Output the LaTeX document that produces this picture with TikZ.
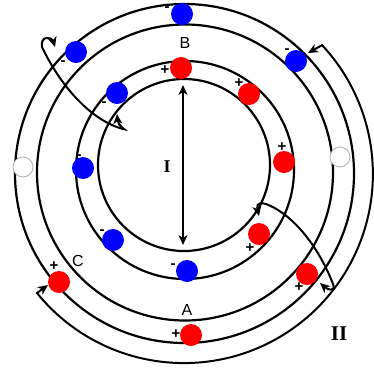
\documentclass[tikz,border=0pt]{standalone}
\usepackage{fontspec}
\setmainfont{Liberation Serif}
\setsansfont{Liberation Sans}
\usepackage{tikz}
\usetikzlibrary{arrows.meta}
\definecolor{elecblue}{RGB}{0, 0, 255}
\definecolor{holered}{RGB}{255, 0, 0}
\definecolor{vacgray}{RGB}{175, 175, 175}

\begin{document}
\begin{tikzpicture}[
    x=1pt, y=-1pt,
    ring/.style={draw=black, line width=2.2pt},
    negdot/.style={circle, fill=elecblue, inner sep=0pt, minimum size=22pt},
    posdot/.style={circle, fill=holered, inner sep=0pt, minimum size=22pt},
    vacdot/.style={circle, draw=vacgray, fill=white, line width=0.8pt,
                inner sep=0pt, minimum size=20pt},
    sgn/.style={font=\sffamily\bfseries\fontsize{15}{15}\selectfont, inner sep=0pt},
    lbl/.style={font=\sffamily\fontsize{16}{16}\selectfont, inner sep=0pt},
    big/.style={font=\rmfamily\bfseries\fontsize{18}{18}\selectfont, inner sep=0pt},
    arr/.style={{Stealth[length=10pt, width=9pt, inset=3pt]}-{Stealth[length=10pt, width=9pt, inset=3pt]},
                line width=2pt},
]
\useasboundingbox (0,0) rectangle (374,373);

% rings
\draw[ring] (184.5,173.5) circle[radius=169.5];
\draw[ring] (185,172.5) circle[radius=148];
\draw[ring] (185,170) circle[radius=109];
\draw[ring] (184,165) circle[radius=86];

% outer channel
\node[negdot] (o1) at (182,14) {};
\node[negdot] (o2) at (296,61) {};
\node[negdot] (o3) at (76,52) {};
\node[vacdot] (v1) at (23,167) {};
\node[vacdot] (v2) at (340,157) {};
\node[posdot] (oA) at (191,335) {};
\node[posdot] (oC) at (59,282) {};
\node[posdot] (o4) at (307,274) {};

% inner channel
\node[posdot] (i1) at (181,68) {};
\node[posdot] (i2) at (249,94) {};
\node[posdot] (i3) at (284,162) {};
\node[posdot] (i4) at (259,234) {};
\node[negdot] (i5) at (187,271) {};
\node[negdot] (i6) at (113,240) {};
\node[negdot] (i7) at (83,168) {};
\node[negdot] (i8) at (117,93) {};

% charges
\node[sgn] (s1) at (167,9) {-};
\node[sgn] (s2) at (287,51) {-};
\node[sgn] (s3) at (63,63) {-};
\node[sgn] (s4) at (104,104) {-};
\node[sgn] (s5) at (79,157) {-};
\node[sgn] (s6) at (102,232) {-};
\node[sgn] (s7) at (173,266) {-};
\node[sgn] (p1) at (165,70) {+};
\node[sgn] (p2) at (239,83) {+};
\node[sgn] (p3) at (282,147) {+};
\node[sgn] (p4) at (250,248) {+};
\node[sgn] (p5) at (299,287) {+};
\node[sgn] (p6) at (176,334) {+};
\node[sgn] (p7) at (54,266) {+};

% labels
\node[lbl] (labB) at (185,43) {B};
\node[lbl] (labA) at (187,310) {A};
\node[lbl] (labC) at (78,261) {C};
\node[big] (labI) at (167,167) {I};
\node[big, font=\rmfamily\bfseries\fontsize{21}{21}\selectfont] (labII) at (339,334) {II};

% transitions
\coordinate (itop) at (183,85);
\coordinate (ibot) at (183,245);
\draw[arr] (itop) -- (ibot);

\coordinate (t1a) at (55,47);
\coordinate (t1b) at (117,114);
\draw[arr] (t1a) .. controls (52,37) and (40,35) .. (42,47)
    .. controls (60,85) and (90,120) .. (123,129)
    .. controls (128,131) and (118,126) .. (t1b);

\coordinate (t2a) at (259,216);
\coordinate (t2b) at (320,283);
\draw[arr] (t2a) .. controls (257,207) and (256,201) .. (266,204)
    .. controls (295,215) and (320,250) .. (333,284)
    .. controls (336,292) and (328,290) .. (t2b);

\coordinate (t3a) at (48,285);
\coordinate (t3b) at (308,53);
\draw[arr] (t3a) -- (37,293) arc[start angle=141, end angle=-43, radius=189] -- (t3b);

\end{tikzpicture}
\end{document}
